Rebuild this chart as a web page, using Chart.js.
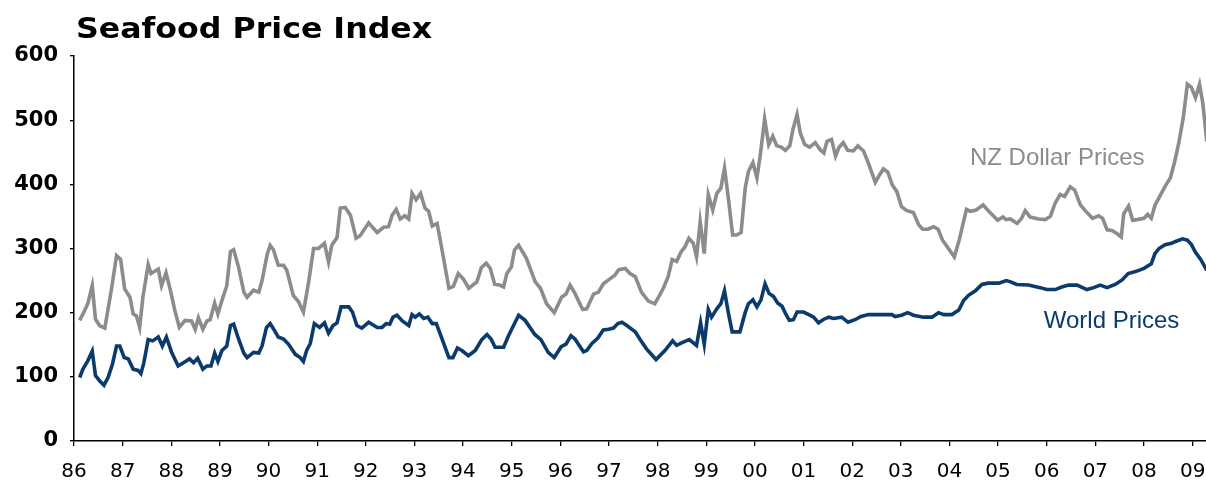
<!DOCTYPE html>
<html><head><meta charset="utf-8">
<script src="https://cdn.jsdelivr.net/npm/chart.js@4.4.1/dist/chart.umd.min.js"></script>
<style>html,body{margin:0;padding:0;background:#fff;overflow:hidden}</style>
</head><body>
<canvas id="c" width="1206" height="482"></canvas>
<script>
const chartTitle = "Seafood Price Index";
const yearLabels = ["86","87","88","89","90","91","92","93","94","95","96","97","98","99","00","01","02","03","04","05","06","07","08","09"];
const yearTickMonths = [0,12,24,36,48,60,72,84,96,108,120,132,144,156,168,180,192,204,216,228,240,252,264,276];
const seriesNames = ["NZ Dollar Prices","World Prices"];

// months since Jan 1986
const nzMonths = [1.4,2.6,3.4,4.5,5.3,6.3,7.6,9.2,10.5,11.5,12.5,13.8,14.6,15.4,16.2,17,18.3,19,20.8,21.6,22.7,23.7,24.9,26,27.4,29,29.9,30.7,31.8,32.8,33.6,34.7,35.5,36.5,37.7,38.6,39.4,40.6,41.9,42.7,44.3,45.6,46.4,47.7,48.4,49.2,50.4,51.7,52.5,54.1,55.4,56.6,57.9,59.1,60.3,61.8,62.8,63.6,64.9,65.7,66.9,68.2,69.6,70.6,72.7,74.8,76.4,77.6,78.5,79.5,80.5,81.6,82.6,83.4,84.4,85.5,86.6,87.5,88.4,89.6,90.8,92.5,93.6,94.8,96,97.4,99.4,100.5,101.7,102.7,103.8,105,106,106.8,107.9,108.7,109.7,111.6,113.8,115.1,116.6,118.5,120.3,121.4,122.4,123.6,125.5,126.5,128.2,129.4,130.6,132.3,133.4,134.4,136,137.2,138.5,140,141.7,143.3,144.2,145.4,146.6,147.6,148.7,149.8,150.7,151.7,152.8,153.6,154.5,155.5,156.5,157.6,158.6,159.6,160.5,161.5,162.5,163.5,164.6,165.6,166.4,167.5,168.5,169.3,170.4,171.4,172.4,173.4,174.5,175.5,176.6,177.4,178.4,179.2,180.3,181.5,182.9,184.1,185,185.8,186.9,187.9,188.7,189.8,190.9,192.3,193.4,194.8,196,197.7,198.5,199.7,200.8,201.9,203,204.2,205.5,207.1,208.4,209.4,210.7,212.1,213.2,214.3,215.4,217.2,218.4,220.2,221.2,222.6,224.3,225.7,226.8,227.9,229.2,230,231,232.7,233.8,234.7,235.9,238,239.6,240.9,242.1,243.3,244.4,245.8,246.9,248.3,249.5,251.3,252.8,253.8,254.9,256.1,257.4,258.4,259,260.2,261.2,262.3,264,264.9,265.8,266.7,268.1,269.5,270.5,271.6,272.6,273.7,274.7,275.7,276.7,277.7,278.5,279.5];
const nzValues = [188,203,214,242,190,180,176,235,289,283,237,224,198,195,177,224,275,261,268,242,262,237,203,177,188,187,174,192,174,187,189,215,198,219,242,295,298,271,232,224,235,232,250,292,305,298,274,274,266,227,217,201,248,300,300,308,279,305,317,363,364,352,316,320,340,325,333,334,352,361,346,351,346,386,376,386,363,358,335,339,298,238,241,261,253,238,248,270,277,269,244,243,240,261,271,298,305,285,248,238,214,200,224,229,243,230,205,206,229,232,245,253,258,267,269,261,256,232,218,214,224,238,256,283,280,295,302,316,308,287,342,292,384,360,386,394,425,376,321,321,325,394,420,434,410,444,502,462,475,460,458,453,460,486,509,480,462,458,465,454,449,467,470,444,457,465,453,452,460,452,433,403,412,424,419,399,389,365,359,356,337,330,330,334,330,313,303,287,313,361,358,360,368,358,351,344,349,345,346,339,347,359,349,346,345,350,371,384,381,396,391,368,359,347,351,347,329,328,323,318,354,366,344,345,347,353,347,367,384,400,410,436,465,504,556,551,535,556,527,467];

const worldMonths = [1.4,2.2,3.4,4.5,5.3,6.3,7.4,8.4,9.5,10.5,11.3,12.4,13.4,14.6,15.8,16.5,17.2,18.3,19.4,20.8,21.8,22.8,24.1,25.7,27,28.5,29.5,30.5,31.8,32.8,33.8,34.7,35.5,36.5,37.7,38.6,39.4,40.6,41.9,42.7,44.3,45.6,46.4,47.5,48.4,49.2,50.4,51.7,52.9,54.6,55.8,56.6,57.4,58.3,59.3,60.6,61.8,62.8,63.9,64.9,65.9,67.8,68.7,69.8,71,72.7,74.8,76,77,77.9,78.7,79.7,81,82.6,83.4,84.2,85.2,86.3,87.3,88.4,89.4,90.8,92.5,93.5,94.6,95.7,97.3,99,100.6,101.9,102.9,103.9,106,107.2,108.2,109.7,111.3,113.7,115.2,117,118.5,120.2,121.4,122.6,123.6,125.7,126.5,127.8,129.2,130.6,131.9,133.1,134.2,135.2,136.4,138.5,139.6,141.2,143.6,145.8,147.7,148.7,150.3,151.8,153.6,154.6,155.5,156.5,157.3,158.6,159.6,160.5,161.5,162.4,164.3,165.6,166.4,167.5,168.5,169.5,170.5,171.5,172.6,173.6,174.7,175.6,176.5,177.5,178.4,180,181.3,182.5,183.7,184.8,186.2,187.4,189.4,191,192.7,194.2,196,198.5,201.8,202.6,204.2,205.7,207.1,209.6,211.7,213.3,214.6,216.6,218.3,219.5,220.7,222.4,224,225.5,228.2,230,231.1,232.6,235.5,238.4,240,242.1,243.7,245.4,247.5,249.9,251.6,253.2,254.9,256.9,258.6,260.1,261.9,264,265.8,266.7,267.7,269.2,270.8,271.8,273.5,274.7,275.7,276.7,278,279.5];
const worldValues = [99,112,125,140,102,94,87,99,120,148,148,130,128,112,110,105,121,158,156,162,148,162,138,117,122,128,122,129,112,117,117,137,124,141,148,180,182,159,137,130,138,137,148,177,183,175,162,159,151,135,130,124,141,152,183,177,184,168,180,184,209,209,201,180,176,185,177,177,183,182,193,196,187,180,197,193,198,191,193,183,183,159,130,130,145,141,133,141,158,166,159,146,146,164,177,196,188,166,158,138,130,147,151,164,159,139,141,152,160,173,174,176,183,185,180,170,159,144,127,141,156,149,154,158,149,184,151,205,193,206,214,234,198,170,170,200,214,220,209,220,245,230,225,215,210,198,188,189,201,201,197,193,184,189,193,191,193,185,189,194,197,197,197,194,196,200,196,193,193,200,197,197,204,219,227,234,244,246,246,250,248,244,243,239,236,236,240,243,243,236,239,243,239,244,251,261,264,269,276,292,300,306,308,311,315,313,306,294,283,266];

const nzPoints = nzMonths.map((m, i) => ({x: m, y: nzValues[i]}));
const worldPoints = worldMonths.map((m, i) => ({x: m, y: worldValues[i]}));

const GREY = '#8c8c8c';
const NAVY = '#0b3a6d';

const titlePlugin = {
  id: 'leftTitle',
  afterDraw(chart, args, opts) {
    const ctx = chart.ctx;
    ctx.save();
    ctx.font = 'bold 28px "DejaVu Sans"';
    ctx.fillStyle = '#000';
    ctx.textAlign = 'left';
    ctx.textBaseline = 'alphabetic';
    ctx.translate(chart.chartArea.left + 2, 38);
    ctx.scale(1.13, 1);
    ctx.fillText(opts.text, 0, 0);
    ctx.restore();
  }
};

const seriesLabelPlugin = {
  id: 'seriesLabels',
  afterDatasetsDraw(chart, args, opts) {
    const ctx = chart.ctx;
    const xs = chart.scales.x, ys = chart.scales.y;
    ctx.save();
    ctx.font = '24px "Liberation Sans"';
    ctx.textAlign = 'center';
    ctx.textBaseline = 'middle';
    opts.items.forEach(it => {
      ctx.fillStyle = it.color;
      ctx.fillText(it.text, xs.getPixelForValue(it.at[0]), ys.getPixelForValue(it.at[1]));
    });
    ctx.restore();
  }
};

new Chart(document.getElementById('c'), {
  type: 'line',
  data: {
    datasets: [
      {label: seriesNames[0], data: nzPoints, borderColor: GREY, borderWidth: 3.6, pointRadius: 0, tension: 0, fill: false},
      {label: seriesNames[1], data: worldPoints, borderColor: NAVY, borderWidth: 3.6, pointRadius: 0, tension: 0, fill: false}
    ]
  },
  options: {
    responsive: false,
    animation: false,
    devicePixelRatio: 1,
    layout: {padding: {top: 56, left: 0, right: 0, bottom: 0}},
    plugins: {
      legend: {display: false},
      tooltip: {enabled: false},
      leftTitle: {text: chartTitle},
      seriesLabels: {items: [
        {text: seriesNames[0], color: GREY, at: [242.6, 441]},
        {text: seriesNames[1], color: NAVY, at: [256, 186]}
      ]}
    },
    scales: {
      x: {
        type: 'linear',
        min: 0,
        max: 279.3,
        afterBuildTicks: s => { s.ticks = yearTickMonths.map(v => ({value: v})); },
        afterFit: s => { s.height = 41; s.paddingLeft = 0; s.paddingRight = 0; },
        ticks: {
          callback: (v, i) => yearLabels[i],
          font: {family: '"DejaVu Sans"', size: 20},
          color: '#000',
          padding: 14,
          maxRotation: 0,
          autoSkip: false
        },
        grid: {drawOnChartArea: false, drawTicks: true, tickLength: 5, color: '#000', lineWidth: 1.3},
        border: {display: true, color: '#000', width: 1.5}
      },
      y: {
        min: 0,
        max: 600,
        afterFit: s => { s.width = 74; },
        ticks: {
          stepSize: 100,
          font: {family: '"DejaVu Sans"', size: 21, weight: 'bold'},
          color: '#000',
          padding: 12
        },
        grid: {drawOnChartArea: false, drawTicks: true, tickLength: 4, color: '#000', lineWidth: 1.3},
        border: {display: true, color: '#000', width: 1.5}
      }
    }
  },
  plugins: [titlePlugin, seriesLabelPlugin]
});
</script>
</body></html>
